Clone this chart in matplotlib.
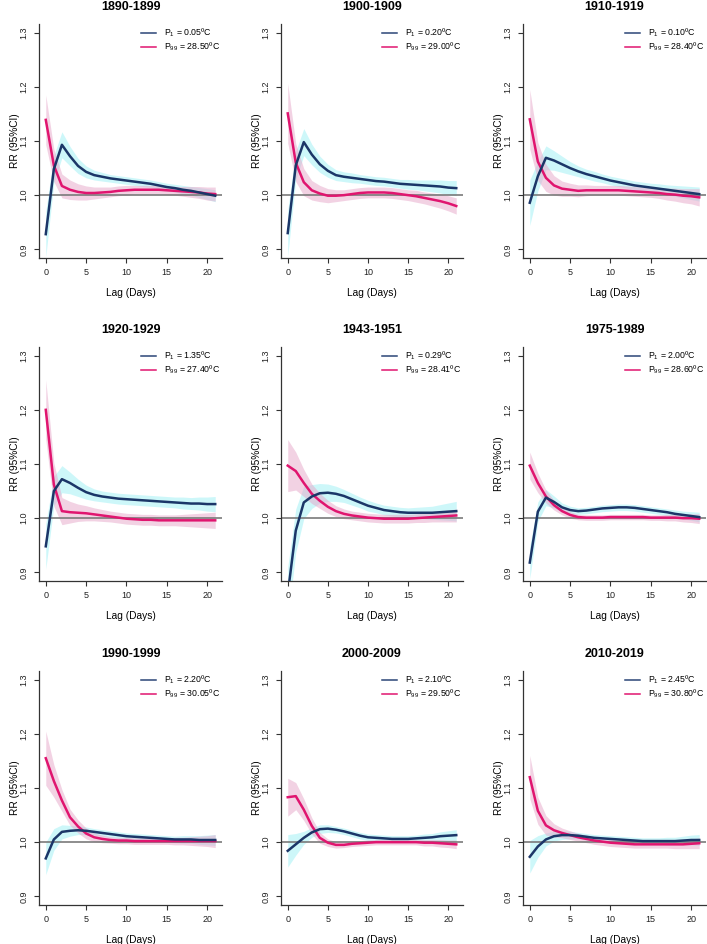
import numpy as np
import matplotlib
matplotlib.use("Agg")
import matplotlib.pyplot as plt
from matplotlib.lines import Line2D

plt.rcParams['font.family'] = ['Liberation Sans', 'DejaVu Sans']
plt.rcParams['mathtext.fontset'] = 'custom'
plt.rcParams['mathtext.rm'] = 'Liberation Sans'
plt.rcParams['mathtext.it'] = 'Liberation Sans:italic'

lags = np.arange(22)

titles = ["1890-1899", "1900-1909", "1910-1919",
          "1920-1929", "1943-1951", "1975-1989",
          "1990-1999", "2000-2009", "2010-2019"]
p1_labels = ["0.05", "0.20", "0.10", "1.35", "0.29", "2.00", "2.20", "2.10", "2.45"]
p99_labels = ["28.50", "29.00", "28.40", "27.40", "28.41", "28.60", "30.05", "29.50", "30.80"]

cold_1890 = [0.928,1.048,1.093,1.072,1.054,1.043,1.037,1.034,1.031,1.029,1.027,1.025,1.023,1.021,1.018,1.015,1.013,1.010,1.008,1.005,1.002,0.999]
cold_hw_1890 = [0.042,0.025,0.024,0.018,0.014,0.011,0.009,0.008,0.007,0.007,0.007,0.007,0.007,0.007,0.007,0.007,0.007,0.008,0.008,0.009,0.010,0.011]
heat_1890 = [1.139,1.055,1.017,1.010,1.006,1.004,1.004,1.005,1.006,1.008,1.009,1.010,1.010,1.010,1.010,1.009,1.008,1.007,1.006,1.005,1.003,1.002]
heat_hw_1890 = [0.046,0.030,0.022,0.018,0.015,0.013,0.011,0.010,0.009,0.009,0.009,0.008,0.008,0.008,0.008,0.008,0.008,0.009,0.010,0.011,0.012,0.013]

cold_1900 = [0.930,1.055,1.098,1.075,1.057,1.045,1.037,1.034,1.032,1.030,1.028,1.026,1.025,1.023,1.021,1.020,1.019,1.018,1.017,1.016,1.014,1.013]
cold_hw_1900 = [0.042,0.026,0.025,0.019,0.015,0.012,0.010,0.009,0.009,0.008,0.008,0.008,0.008,0.008,0.008,0.009,0.009,0.010,0.011,0.012,0.013,0.014]
heat_1900 = [1.151,1.060,1.024,1.009,1.003,0.999,0.999,1.000,1.002,1.004,1.005,1.005,1.005,1.004,1.002,1.000,0.998,0.995,0.992,0.989,0.985,0.980]
heat_hw_1900 = [0.055,0.035,0.025,0.018,0.015,0.013,0.011,0.010,0.010,0.010,0.010,0.010,0.010,0.010,0.010,0.010,0.011,0.011,0.012,0.013,0.014,0.015]

cold_1910 = [0.986,1.035,1.069,1.064,1.057,1.050,1.044,1.039,1.035,1.031,1.027,1.024,1.021,1.018,1.016,1.014,1.012,1.010,1.008,1.006,1.004,1.002]
cold_hw_1910 = [0.042,0.027,0.022,0.018,0.015,0.012,0.010,0.009,0.009,0.008,0.008,0.008,0.008,0.008,0.008,0.008,0.009,0.009,0.010,0.011,0.012,0.013]
heat_1910 = [1.140,1.062,1.032,1.018,1.012,1.010,1.008,1.009,1.009,1.009,1.009,1.009,1.008,1.007,1.006,1.005,1.004,1.002,1.001,0.999,0.998,0.996]
heat_hw_1910 = [0.055,0.035,0.025,0.018,0.014,0.012,0.011,0.010,0.009,0.009,0.009,0.009,0.009,0.009,0.009,0.009,0.010,0.011,0.012,0.013,0.014,0.016]

cold_1920 = [0.948,1.050,1.072,1.065,1.056,1.048,1.043,1.040,1.038,1.036,1.035,1.034,1.033,1.032,1.031,1.030,1.029,1.028,1.027,1.027,1.026,1.026]
cold_hw_1920 = [0.042,0.027,0.025,0.020,0.016,0.013,0.011,0.010,0.010,0.010,0.010,0.010,0.010,0.010,0.010,0.010,0.010,0.011,0.011,0.012,0.013,0.014]
heat_1920 = [1.200,1.062,1.013,1.011,1.010,1.009,1.007,1.005,1.003,1.001,0.999,0.998,0.997,0.997,0.996,0.996,0.996,0.996,0.996,0.996,0.996,0.996]
heat_hw_1920 = [0.055,0.040,0.025,0.020,0.016,0.014,0.012,0.011,0.010,0.010,0.010,0.010,0.010,0.010,0.010,0.010,0.010,0.011,0.012,0.013,0.014,0.015]

cold_1943 = [0.860,0.977,1.029,1.040,1.046,1.047,1.045,1.041,1.035,1.029,1.023,1.019,1.015,1.013,1.011,1.010,1.010,1.010,1.010,1.011,1.012,1.013]
cold_hw_1943 = [0.050,0.040,0.030,0.022,0.018,0.016,0.014,0.012,0.011,0.010,0.010,0.009,0.009,0.009,0.009,0.009,0.010,0.011,0.012,0.014,0.016,0.018]
heat_1943 = [1.097,1.087,1.065,1.045,1.032,1.021,1.013,1.008,1.005,1.003,1.001,1.000,0.999,0.999,0.999,0.999,1.000,1.001,1.002,1.003,1.004,1.005]
heat_hw_1943 = [0.048,0.035,0.025,0.018,0.014,0.012,0.010,0.009,0.008,0.008,0.008,0.008,0.008,0.008,0.008,0.008,0.008,0.009,0.009,0.010,0.011,0.012]

cold_1975 = [0.918,1.012,1.038,1.030,1.020,1.015,1.013,1.014,1.016,1.018,1.019,1.020,1.020,1.019,1.017,1.015,1.013,1.011,1.008,1.006,1.004,1.002]
cold_hw_1975 = [0.030,0.018,0.015,0.011,0.008,0.007,0.006,0.006,0.006,0.006,0.006,0.006,0.006,0.006,0.006,0.006,0.006,0.006,0.007,0.007,0.008,0.009]
heat_1975 = [1.097,1.065,1.040,1.024,1.013,1.006,1.002,1.001,1.001,1.001,1.002,1.002,1.002,1.002,1.002,1.001,1.001,1.001,1.001,1.000,1.000,0.999]
heat_hw_1975 = [0.025,0.018,0.012,0.009,0.007,0.006,0.005,0.005,0.005,0.005,0.005,0.005,0.005,0.005,0.005,0.005,0.005,0.006,0.006,0.007,0.008,0.009]

cold_1990 = [0.970,1.005,1.019,1.021,1.022,1.021,1.019,1.017,1.015,1.013,1.011,1.010,1.009,1.008,1.007,1.006,1.005,1.005,1.005,1.004,1.004,1.004]
cold_hw_1990 = [0.030,0.020,0.013,0.010,0.008,0.007,0.006,0.006,0.006,0.006,0.006,0.006,0.006,0.006,0.006,0.006,0.006,0.007,0.007,0.008,0.009,0.010]
heat_1990 = [1.155,1.113,1.077,1.046,1.029,1.016,1.009,1.006,1.004,1.003,1.003,1.002,1.002,1.002,1.002,1.002,1.002,1.002,1.002,1.002,1.002,1.002]
heat_hw_1990 = [0.050,0.030,0.020,0.015,0.012,0.010,0.008,0.007,0.006,0.006,0.006,0.006,0.006,0.006,0.006,0.006,0.007,0.007,0.008,0.009,0.010,0.012]

cold_2000 = [0.984,0.996,1.008,1.018,1.024,1.025,1.023,1.020,1.016,1.012,1.009,1.008,1.007,1.006,1.006,1.006,1.007,1.008,1.009,1.011,1.012,1.013]
cold_hw_2000 = [0.030,0.020,0.012,0.009,0.008,0.007,0.006,0.006,0.006,0.006,0.006,0.006,0.006,0.006,0.006,0.006,0.006,0.007,0.007,0.008,0.009,0.010]
heat_2000 = [1.083,1.085,1.060,1.030,1.008,0.999,0.995,0.995,0.997,0.998,0.999,1.000,1.000,1.000,1.000,1.000,1.000,0.999,0.999,0.998,0.997,0.996]
heat_hw_2000 = [0.035,0.025,0.020,0.015,0.010,0.007,0.006,0.005,0.005,0.005,0.005,0.005,0.005,0.005,0.005,0.005,0.005,0.006,0.006,0.007,0.007,0.008]

cold_2010 = [0.973,0.992,1.005,1.011,1.013,1.013,1.012,1.010,1.008,1.007,1.006,1.005,1.004,1.003,1.002,1.002,1.002,1.002,1.002,1.003,1.004,1.004]
cold_hw_2010 = [0.030,0.020,0.012,0.009,0.008,0.007,0.006,0.006,0.006,0.006,0.006,0.006,0.006,0.006,0.006,0.006,0.006,0.007,0.007,0.008,0.009,0.010]
heat_2010 = [1.120,1.058,1.031,1.022,1.017,1.013,1.009,1.006,1.003,1.001,0.999,0.998,0.997,0.996,0.996,0.996,0.996,0.996,0.996,0.996,0.997,0.998]
heat_hw_2010 = [0.040,0.025,0.018,0.012,0.009,0.008,0.007,0.007,0.007,0.007,0.007,0.007,0.007,0.007,0.007,0.007,0.007,0.007,0.008,0.008,0.009,0.010]

cold_all = [cold_1890, cold_1900, cold_1910, cold_1920, cold_1943, cold_1975, cold_1990, cold_2000, cold_2010]
cold_hw_all = [cold_hw_1890, cold_hw_1900, cold_hw_1910, cold_hw_1920, cold_hw_1943, cold_hw_1975, cold_hw_1990, cold_hw_2000, cold_hw_2010]
heat_all = [heat_1890, heat_1900, heat_1910, heat_1920, heat_1943, heat_1975, heat_1990, heat_2000, heat_2010]
heat_hw_all = [heat_hw_1890, heat_hw_1900, heat_hw_1910, heat_hw_1920, heat_hw_1943, heat_hw_1975, heat_hw_1990, heat_hw_2000, heat_hw_2010]

W, H = 707, 944
fig = plt.figure(figsize=(W / 100, H / 100), dpi=100)
fig.patch.set_facecolor('white')

col_left = [39, 281, 523]
col_w = [183, 182, 183]
row_top = [24, 347, 671]
ax_h = 234

BLUE = '#1b3668'
PINK = '#e0156f'

for i in range(9):
    r, c = divmod(i, 3)
    left = col_left[c] / W
    bottom = (H - row_top[r] - ax_h) / H
    ax = fig.add_axes([left, bottom, col_w[c] / W, ax_h / H])

    cold = np.array(cold_all[i]); chw = np.array(cold_hw_all[i])
    heat = np.array(heat_all[i]); hhw = np.array(heat_hw_all[i])

    ax.fill_between(lags, cold - chw, cold + chw, color='#9cf0f5', alpha=0.5, lw=0)
    ax.fill_between(lags, heat - hhw, heat + hhw, color='#e6a6c9', alpha=0.5, lw=0)
    ax.axhline(1.0, color='#7a7a7a', lw=1.2, zorder=2)
    ax.plot(lags, heat, color=PINK, lw=1.8, zorder=3)
    ax.plot(lags, cold, color=BLUE, lw=1.8, zorder=4)

    ax.set_xlim(-0.84, 21.84)
    ax.set_ylim(0.884, 1.316)
    ax.set_xticks([0, 5, 10, 15, 20])
    ax.set_yticks([0.9, 1.0, 1.1, 1.2, 1.3])
    ax.set_yticklabels(["0.9", "1.0", "1.1", "1.2", "1.3"], rotation=90, va='center')
    ax.tick_params(axis='both', length=3.5, width=0.8, color='#333333',
                   labelsize=6.5, labelcolor='#222222', pad=4)
    for s in ['top', 'right']:
        ax.spines[s].set_visible(False)
    for s in ['left', 'bottom']:
        ax.spines[s].set_color('#333333')
        ax.spines[s].set_linewidth(0.9)

    ax.text(0.5, 1.058, titles[i], transform=ax.transAxes, ha='center', va='baseline',
            fontsize=9, fontweight='bold')
    ax.text(0.5, -0.15, "Lag (Days)", transform=ax.transAxes, ha='center', va='center',
            fontsize=7.3)
    ax.text(-0.13, 0.5, "RR (95%CI)", transform=ax.transAxes, ha='center', va='center',
            rotation=90, fontsize=7.3)

    handles = [Line2D([0], [0], color='#2b4577', lw=1.1),
               Line2D([0], [0], color=PINK, lw=1.1)]
    labels = [r"P$_\mathregular{1}$ = " + p1_labels[i] + "ºC",
              r"P$_\mathregular{99}$ = " + p99_labels[i] + "ºC"]
    ax.legend(handles, labels, loc='upper right', bbox_to_anchor=(1.0, 0.995),
              frameon=False, fontsize=6.3, handlelength=1.8, handletextpad=0.9,
              labelspacing=0.15, borderaxespad=0.0, borderpad=0.2)

fig.savefig("out.png", dpi=100)
